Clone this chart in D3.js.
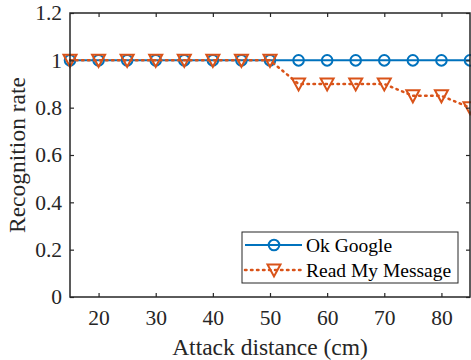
<!DOCTYPE html>
<html>
<head>
<meta charset="utf-8">
<script src="https://cdn.jsdelivr.net/npm/d3@7"></script>
<style>
  html, body { margin: 0; padding: 0; background: #fff; }
</style>
</head>
<body>
<script>
// Data
const distances = [15, 20, 25, 30, 35, 40, 45, 50, 55, 60, 65, 70, 75, 80, 85]
const okGoogle = [1, 1, 1, 1, 1, 1, 1, 1, 1, 1, 1, 1, 1, 1, 1]
const readMyMessage = [1, 1, 1, 1, 1, 1, 1, 1, 0.9, 0.9, 0.9, 0.9, 0.85, 0.85, 0.8]
const xTicks = [20, 30, 40, 50, 60, 70, 80]
const yTicks = [0, 0.2, 0.4, 0.6, 0.8, 1, 1.2]
const seriesNames = ["Ok Google", "Read My Message"]

const width = 471, height = 360
const margin = { top: 13, left: 70, right: 1, bottom: 63 }
const serif = "Liberation Serif"
const axisColor = "#262626"
const blue = "#0072BD", orange = "#D95319"
const tickFont = 21.5, labelFont = 23.5, legendFont = 19.5

const svg = d3.select("body").append("svg")
  .attr("width", width)
  .attr("height", height)

const x = d3.scaleLinear().domain([15, 85]).range([margin.left, width - margin.right])
const y = d3.scaleLinear().domain([0, 1.2]).range([height - margin.bottom, margin.top])

// Series
const series = [
  { name: seriesNames[0], values: okGoogle, color: blue, dash: null, marker: "circle" },
  { name: seriesNames[1], values: readMyMessage, color: orange, dash: "1.5,4.5", marker: "triangle" },
]

const line = d3.line().x(d => x(d[0])).y(d => y(d[1]))
const tri = "M-6.5,-5.5L6.5,-5.5L0,6.5Z"

function drawMarker(g, kind, color) {
  if (kind === "circle") {
    g.append("circle").attr("r", 5.3).attr("fill", "none").attr("stroke", color).attr("stroke-width", 2)
  } else {
    g.append("path").attr("d", tri).attr("fill", "none").attr("stroke", color).attr("stroke-width", 2).attr("stroke-linejoin", "miter")
  }
}

for (const s of series) {
  const D = distances.map((d, i) => [d, s.values[i]])
  svg.append("path")
    .datum(D)
    .attr("d", line)
    .attr("fill", "none")
    .attr("stroke", s.color)
    .attr("stroke-width", s.dash ? 2.5 : 2)
    .attr("stroke-linecap", s.dash ? "round" : "butt")
    .attr("stroke-dasharray", s.dash)
  svg.append("g").selectAll("g")
    .data(D)
    .join("g")
    .attr("transform", d => `translate(${x(d[0])},${y(d[1])})`)
    .each(function () { drawMarker(d3.select(this), s.marker, s.color) })
}

// Axes
const tickLen = 4
svg.append("g")
  .attr("transform", `translate(0,${height - margin.bottom})`)
  .call(d3.axisBottom(x).tickValues(xTicks).tickSizeInner(-tickLen).tickSizeOuter(0).tickPadding(13))
  .call(g => g.select(".domain").remove())
  .call(g => g.selectAll(".tick line").attr("stroke", axisColor).attr("stroke-width", 1.2))
  .selectAll("text")
  .attr("font-family", serif)
  .attr("font-size", tickFont)
  .attr("fill", axisColor)

svg.append("g")
  .attr("transform", `translate(${margin.left},0)`)
  .call(d3.axisLeft(y).tickValues(yTicks).tickFormat(d3.format("~g")).tickSizeInner(-tickLen).tickSizeOuter(0).tickPadding(8))
  .call(g => g.select(".domain").remove())
  .call(g => g.selectAll(".tick line").attr("stroke", axisColor).attr("stroke-width", 1.2))
  .selectAll("text")
  .attr("font-family", serif)
  .attr("font-size", tickFont)
  .attr("fill", axisColor)

// Top and right ticks
svg.append("g")
  .attr("transform", `translate(0,${margin.top})`)
  .call(d3.axisTop(x).tickValues(xTicks).tickSizeInner(-tickLen).tickSizeOuter(0).tickFormat(""))
  .call(g => g.select(".domain").remove())
  .call(g => g.selectAll(".tick line").attr("stroke", axisColor).attr("stroke-width", 1.2))
svg.append("g")
  .attr("transform", `translate(${width - margin.right},0)`)
  .call(d3.axisRight(y).tickValues(yTicks).tickSizeInner(-tickLen).tickSizeOuter(0).tickFormat(""))
  .call(g => g.select(".domain").remove())
  .call(g => g.selectAll(".tick line").attr("stroke", axisColor).attr("stroke-width", 1.2))

// Box
svg.append("rect")
  .attr("x", margin.left)
  .attr("y", margin.top)
  .attr("width", width - margin.right - margin.left)
  .attr("height", height - margin.bottom - margin.top)
  .attr("fill", "none")
  .attr("stroke", axisColor)
  .attr("stroke-width", 1.5)

// Axis labels
svg.append("text")
  .attr("x", (margin.left + width - margin.right) / 2)
  .attr("y", 355)
  .attr("text-anchor", "middle")
  .attr("font-family", serif)
  .attr("font-size", labelFont)
  .attr("fill", axisColor)
  .text("Attack distance (cm)")

svg.append("text")
  .attr("transform", `translate(25,${(margin.top + height - margin.bottom) / 2}) rotate(-90)`)
  .attr("text-anchor", "middle")
  .attr("font-family", serif)
  .attr("font-size", labelFont)
  .attr("fill", axisColor)
  .text("Recognition rate")

// Legend
const legend = svg.append("g").attr("transform", "translate(242,232)")
legend.append("rect")
  .attr("width", 216)
  .attr("height", 51)
  .attr("fill", "#fff")
  .attr("stroke", axisColor)
  .attr("stroke-width", 1)
series.forEach((s, i) => {
  const ly = 13 + i * 25
  legend.append("line")
    .attr("x1", 3).attr("x2", 60).attr("y1", ly).attr("y2", ly)
    .attr("stroke", s.color)
    .attr("stroke-width", s.dash ? 2.5 : 2)
    .attr("stroke-linecap", s.dash ? "round" : "butt")
    .attr("stroke-dasharray", s.dash)
  drawMarker(legend.append("g").attr("transform", `translate(32,${ly})`), s.marker, s.color)
  legend.append("text")
    .attr("x", 64)
    .attr("y", ly + 6.5)
    .attr("font-family", serif)
    .attr("font-size", legendFont)
    .attr("fill", "#000")
    .text(s.name)
})
</script>
</body>
</html>
